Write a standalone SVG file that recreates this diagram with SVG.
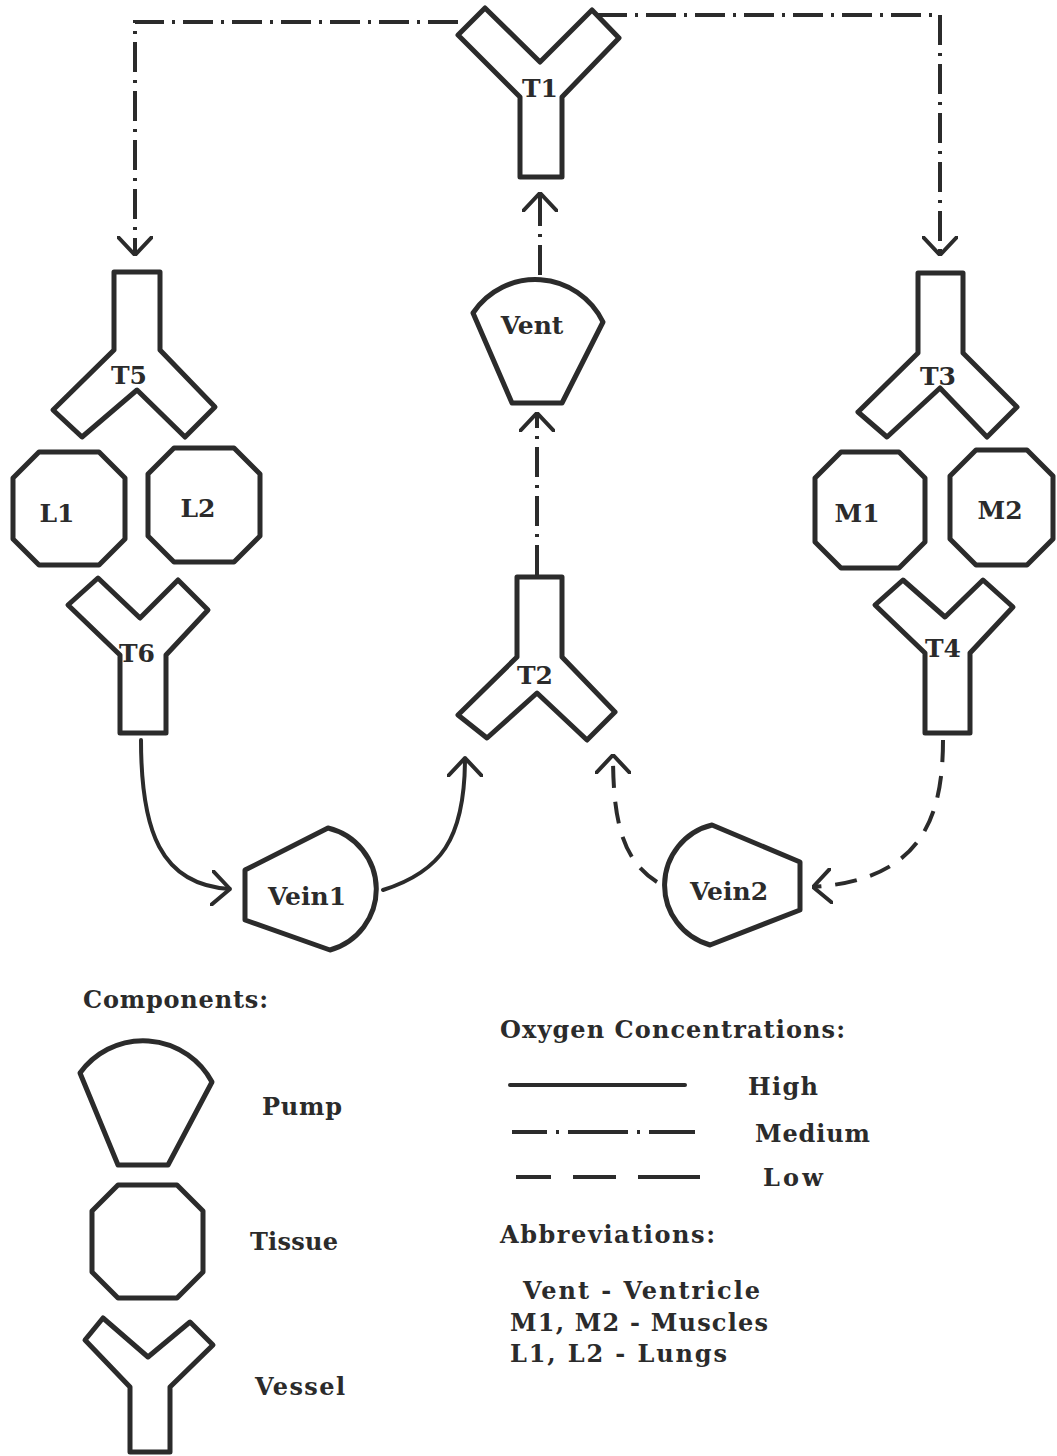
<svg xmlns="http://www.w3.org/2000/svg" width="1057" height="1456" viewBox="0 0 1057 1456">
<style>
.shape{fill:none;stroke:#2b2b2b;stroke-width:5;stroke-linejoin:round}
.lbl{font-family:"DejaVu Serif","Liberation Serif",serif;font-size:25px;font-weight:bold;fill:#2b2b2b;text-anchor:middle}
.leg{font-family:"DejaVu Serif","Liberation Serif",serif;font-size:24px;font-weight:bold;fill:#2b2b2b}
.high{fill:none;stroke:#2b2b2b;stroke-width:4;stroke-linecap:round}
.med{fill:none;stroke:#2b2b2b;stroke-width:4;stroke-dasharray:30 8 3 8}
.low{fill:none;stroke:#2b2b2b;stroke-width:4;stroke-dasharray:22 14}
</style>
<defs>
<marker id="arr" viewBox="0 0 20 36" refX="19" refY="18" markerWidth="20" markerHeight="36" markerUnits="userSpaceOnUse" orient="auto">
<path d="M1,1 L19,18 L1,35" fill="none" stroke="#2b2b2b" stroke-width="4" stroke-dasharray="none" stroke-linecap="round" stroke-linejoin="round"/>
</marker>
</defs>
<rect width="1057" height="1456" fill="#ffffff"/>

<g id="connectors">
<path class="med" d="M458,22 L135,22 L135,255" marker-end="url(#arr)"/>
<path class="med" d="M597,15 L940,15 L940,255" marker-end="url(#arr)"/>
<path class="med" d="M540,275 L540,193" marker-end="url(#arr)"/>
<path class="med" d="M537,575 L537,413" marker-end="url(#arr)"/>
<path class="high" d="M141,740 C141,830 160,885 230,889" marker-end="url(#arr)"/>
<path class="high" d="M383,890 C440,872 465,840 465,758" marker-end="url(#arr)"/>
<path class="low" d="M943,740 C943,820 920,880 813,887" marker-end="url(#arr)"/>
<path class="low" d="M657,882 C622,860 613,820 613,755" marker-end="url(#arr)"/>
</g>

<g id="T1"><path class="shape" d="M520,177 L520,97 L458,35 L485,8 L540,62 L592,10 L619,38 L562,97 L562,177 Z"/><text class="lbl" x="540" y="97">T1</text></g>
<g id="T5"><path class="shape" d="M114,272 L160,272 L160,350 L215,407 L185,437 L137,390 L82,437 L53,410 L114,350 Z"/><text class="lbl" x="129" y="384">T5</text></g>
<g id="T6"><path class="shape" d="M120,733 L120,655 L68,605 L98,578 L140,618 L178,580 L208,610 L166,655 L166,733 Z"/><text class="lbl" x="137" y="662">T6</text></g>
<g id="T2"><path class="shape" d="M517,577 L562,577 L562,657 L615,712 L587,740 L537,693 L487,738 L458,715 L517,657 Z"/><text class="lbl" x="535" y="684">T2</text></g>
<g id="T3"><path class="shape" d="M918,273 L963,273 L963,353 L1017,407 L987,437 L940,388 L887,437 L858,412 L918,353 Z"/><text class="lbl" x="938" y="385">T3</text></g>
<g id="T4"><path class="shape" d="M925,733 L925,653 L875,605 L903,580 L945,617 L983,580 L1013,607 L970,653 L970,733 Z"/><text class="lbl" x="943" y="657">T4</text></g>

<g id="L1"><polygon class="shape" points="39,452 99,452 125,478 125,539 99,565 39,565 13,539 13,478"/><text class="lbl" x="57" y="522">L1</text></g>
<g id="L2"><polygon class="shape" points="174,448 234,448 260,474 260,536 234,562 174,562 148,536 148,474"/><text class="lbl" x="198" y="517">L2</text></g>
<g id="M1"><polygon class="shape" points="841,452 899,452 925,478 925,542 899,568 841,568 815,542 815,478"/><text class="lbl" x="857" y="522">M1</text></g>
<g id="M2"><polygon class="shape" points="976,450 1027,450 1053,476 1053,539 1027,565 976,565 950,539 950,476"/><text class="lbl" x="1000" y="519">M2</text></g>

<g id="Vent"><path class="shape" d="M473,313 A75,75 0 0 1 603,322 L562,403 L512,403 Z"/><text class="lbl" x="532" y="334">Vent</text></g>
<g id="Vein1"><path class="shape" d="M245,870 L328,828 A63,63 0 0 1 330,950 L245,920 Z"/><text class="lbl" x="307" y="905">Vein1</text></g>
<g id="Vein2"><path class="shape" d="M800,862 L712,825 A62,62 0 0 0 710,945 L800,910 Z"/><text class="lbl" x="729" y="900">Vein2</text></g>

<g id="legend">
<text class="leg" x="83" y="1008" textLength="185">Components:</text>
<path class="shape" d="M80,1073 A78,78 0 0 1 212,1082 L168,1165 L118,1165 Z"/>
<text class="leg" x="262" y="1115" textLength="80">Pump</text>
<polygon class="shape" points="118,1185 177,1185 203,1211 203,1272 177,1298 118,1298 92,1272 92,1211"/>
<text class="leg" x="250" y="1250" textLength="88">Tissue</text>
<path class="shape" d="M130,1452 L130,1387 L85,1340 L103,1318 L148,1357 L190,1322 L213,1345 L170,1387 L170,1452 Z"/>
<text class="leg" x="255" y="1395" textLength="90">Vessel</text>

<text class="leg" x="500" y="1038" textLength="345">Oxygen Concentrations:</text>
<line class="high" x1="510" y1="1085" x2="685" y2="1085"/>
<text class="leg" x="748" y="1095" textLength="70">High</text>
<line class="med" x1="512" y1="1132" x2="695" y2="1132" style="stroke-dasharray:35 9 3 9 60 9 3 9 60"/>
<text class="leg" x="755" y="1142" textLength="115">Medium</text>
<line class="low" x1="516" y1="1177" x2="700" y2="1177" style="stroke-dasharray:35 22 43 22 63"/>
<text class="leg" x="763" y="1186" textLength="60">Low</text>

<text class="leg" x="500" y="1243" textLength="215">Abbreviations:</text>
<text class="leg" x="523" y="1299" textLength="237">Vent - Ventricle</text>
<text class="leg" x="510" y="1331" textLength="258">M1, M2 - Muscles</text>
<text class="leg" x="510" y="1362" textLength="217">L1, L2 - Lungs</text>
</g>
</svg>
